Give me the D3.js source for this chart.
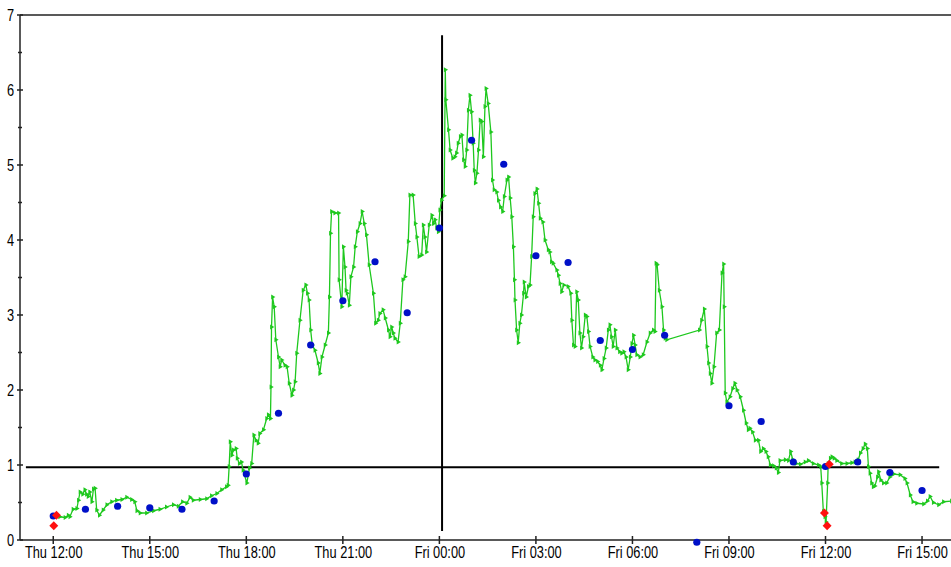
<!DOCTYPE html>
<html><head><meta charset="utf-8">
<script src="https://cdn.jsdelivr.net/npm/d3@7"></script>
<style>
html,body{margin:0;padding:0;background:#fff;}
svg{display:block;}
text{font-family:"Liberation Sans",Arial,sans-serif;font-size:16px;fill:#000;}
</style></head><body>
<svg id="chart" width="951" height="567"></svg>
<script>
// Base time: Thu 12:00; all times below are minutes after it
const baseTime = new Date(2009, 0, 1, 12, 0);
const domainMinutes = [-62, 1674];
const yDomain = [0, 7];
const yTicksMajor = [0,1,2,3,4,5,6,7];
const yTicksMinor = [0.5,1.5,2.5,3.5,4.5,5.5,6.5];

// Green measured trace [minutes, value]
const tracePoints = [
[5,0.32],[12,0.31],[22,0.30],[28,0.33],[31,0.31],[37,0.41],[44,0.42],[47,0.53],[50,0.64],[55,0.61],
[59,0.67],[62,0.61],[65,0.58],[68,0.64],[72,0.51],[75,0.68],[78,0.69],[81,0.40],[86,0.33],[93,0.40],
[100,0.47],[109,0.51],[118,0.53],[128,0.54],[137,0.57],[146,0.54],[152,0.51],[156,0.39],[162,0.36],[174,0.36],
[187,0.39],[199,0.41],[211,0.44],[224,0.47],[233,0.45],[241,0.51],[249,0.49],[255,0.57],[261,0.53],[274,0.54],
[286,0.55],[295,0.59],[305,0.62],[314,0.67],[323,0.71],[326,0.73],[328,0.98],[330,1.31],[333,1.13],[336,1.20],
[341,1.22],[343,1.09],[347,1.02],[351,1.04],[354,0.93],[361,0.76],[366,0.96],[370,1.02],[374,1.40],[378,1.33],
[382,1.29],[385,1.42],[392,1.47],[398,1.62],[401,1.67],[405,1.62],[406,2.04],[407,2.84],[409,3.24],[412,3.11],
[415,2.67],[420,2.44],[423,2.31],[426,2.40],[432,2.33],[436,2.31],[440,2.09],[445,1.93],[448,2.00],[451,2.11],
[454,2.49],[460,2.93],[466,3.33],[471,3.40],[474,3.29],[477,3.20],[480,2.80],[483,2.60],[488,2.53],[494,2.36],
[497,2.22],[501,2.44],[507,2.60],[513,2.76],[515,3.24],[517,4.09],[519,4.38],[525,4.36],[532,4.36],[533,3.47],
[538,3.11],[541,3.91],[544,3.64],[546,3.33],[548,3.29],[552,3.13],[555,3.51],[560,3.64],[563,3.91],[567,4.11],
[572,4.22],[576,4.38],[580,4.22],[584,4.07],[589,3.67],[597,3.29],[601,2.89],[606,2.93],[609,3.02],[615,3.07],
[619,2.96],[625,2.80],[628,2.71],[631,2.84],[634,2.76],[637,2.69],[643,2.64],[647,2.89],[652,3.47],[656,3.51],
[662,3.98],[665,4.60],[671,4.60],[675,4.22],[678,4.04],[682,3.78],[687,3.80],[690,4.20],[693,4.04],[696,3.84],
[701,4.20],[706,4.33],[709,4.22],[712,4.27],[715,4.16],[718,4.11],[721,4.40],[724,4.53],[729,4.59],[731,6.27],
[732,5.87],[737,5.47],[740,5.20],[745,5.09],[749,5.11],[752,5.16],[755,5.29],[759,5.38],[762,5.40],[765,5.07],
[768,4.98],[771,5.20],[774,5.73],[777,5.93],[780,5.71],[783,5.29],[785,4.93],[787,4.76],[790,4.89],[793,5.20],
[796,5.60],[799,5.58],[802,5.11],[805,5.78],[807,6.02],[811,5.82],[816,5.44],[819,4.80],[822,4.67],[827,4.64],
[830,4.53],[834,4.44],[838,4.38],[841,4.58],[846,4.80],[849,4.84],[852,4.56],[855,4.31],[858,3.91],[860,3.47],
[861,3.20],[864,2.80],[867,2.63],[870,2.89],[873,3.00],[877,3.29],[878,3.44],[882,3.24],[886,3.38],[889,3.40],
[892,3.78],[895,4.31],[898,4.62],[902,4.68],[905,4.49],[908,4.29],[913,4.24],[917,4.00],[923,3.87],[926,3.84],
[929,3.71],[932,3.69],[939,3.60],[942,3.53],[945,3.42],[948,3.31],[952,3.40],[960,3.38],[965,3.29],[967,2.93],
[970,2.60],[973,2.58],[976,3.31],[979,3.20],[982,2.76],[985,2.56],[988,2.71],[992,3.00],[995,2.98],[998,2.78],
[1001,2.58],[1006,2.44],[1010,2.40],[1015,2.38],[1020,2.33],[1023,2.27],[1027,2.42],[1031,2.56],[1035,2.80],[1038,2.87],
[1041,2.71],[1044,2.58],[1048,2.80],[1051,2.56],[1056,2.51],[1060,2.49],[1064,2.51],[1068,2.44],[1072,2.27],[1076,2.44],
[1079,2.62],[1082,2.73],[1085,2.60],[1088,2.47],[1094,2.44],[1100,2.47],[1107,2.64],[1113,2.76],[1119,2.80],[1122,2.78],
[1124,3.69],[1126,3.67],[1130,3.33],[1135,3.11],[1138,2.80],[1141,2.69],[1144,2.67],[1205,2.80],[1209,2.93],[1214,3.08],
[1219,2.58],[1222,2.36],[1225,2.22],[1228,2.09],[1232,2.31],[1237,2.76],[1242,2.80],[1247,3.56],[1250,3.68],[1251,3.11],
[1253,1.96],[1256,1.84],[1262,1.91],[1267,2.02],[1271,2.09],[1275,2.00],[1281,1.91],[1287,1.73],[1292,1.56],[1296,1.47],
[1299,1.49],[1304,1.44],[1309,1.33],[1315,1.33],[1319,1.18],[1324,1.22],[1329,1.18],[1333,1.11],[1337,1.00],[1343,0.99],
[1348,0.96],[1352,0.90],[1355,1.06],[1365,1.07],[1371,1.06],[1375,1.18],[1379,1.07],[1385,1.02],[1393,1.01],[1402,1.04],
[1408,1.06],[1417,1.02],[1427,1.00],[1431,0.98],[1433,0.76],[1436,0.38],[1439,0.31],[1441,0.24],[1444,0.76],[1445,1.02],
[1449,1.09],[1452,1.11],[1456,1.09],[1461,1.06],[1470,1.02],[1480,1.02],[1489,1.03],[1495,1.04],[1501,1.07],[1505,1.16],
[1510,1.22],[1514,1.28],[1518,1.22],[1520,0.98],[1523,0.89],[1526,0.76],[1529,0.71],[1532,0.72],[1537,0.84],[1539,0.91],
[1543,0.80],[1548,0.76],[1554,0.76],[1560,0.84],[1567,0.88],[1579,0.87],[1588,0.82],[1592,0.76],[1598,0.60],[1603,0.51],
[1610,0.49],[1623,0.48],[1630,0.52],[1635,0.58],[1641,0.50],[1651,0.47],[1660,0.51],[1675,0.52],[1690,0.53]
];

// Hourly blue points, Thu 12:00 .. Fri 15:00
const hourlyValues = [0.32,0.41,0.45,0.43,0.41,0.52,0.88,1.69,2.60,3.19,3.71,3.03,4.16,5.33,5.01,3.79,3.70,2.66,2.54,2.73,-0.03,1.79,1.58,1.04,0.98,1.04,0.90,0.66];

// Red diamond points [minutes, value]
const flagPoints = [[1,0.19],[6,0.33],[1438,0.36],[1443,0.19],[1447,1.01]];

// Reference lines
const hLineValue = 0.97, hLineRange = [-51, 1652];
const vLineMinute = 725, vLineRange = [0.12, 6.73];

const toDate = m => new Date(baseTime.getTime() + m*60000);

const svg = d3.select("#chart");
const L = 20, R = 951, T = 15, B = 540;
const x = d3.scaleTime().domain(domainMinutes.map(toDate)).range([L, R]);
const y = d3.scaleLinear().domain(yDomain).range([B, T]);

svg.append("defs").append("clipPath").attr("id","clip")
  .append("rect").attr("x",L).attr("y",T-10).attr("width",R-L).attr("height",B-T+20);

const axisColor = "#222";
const narrow = sel => sel.each(function(){
  const w = this.getComputedTextLength();
  d3.select(this).attr("textLength", w*0.8).attr("lengthAdjust","spacingAndGlyphs");
});

// frame top
svg.append("line").attr("x1",L).attr("x2",R).attr("y1",T).attr("y2",T).attr("stroke",axisColor).attr("stroke-width",1.5);

// y axis
const yAxis = d3.axisLeft(y).tickValues(yTicksMajor).tickSize(0).tickPadding(6).tickFormat(d3.format("d"));
const gy = svg.append("g").attr("transform",`translate(${L},0)`).call(yAxis);
gy.select(".domain").remove();
gy.selectAll("text").attr("fill","#000").style("font-size","16px").call(narrow);
svg.append("g").selectAll("line").data(yTicksMajor.concat(yTicksMinor)).join("line")
  .attr("x1", d => yTicksMinor.includes(d) ? L-2 : L-3)
  .attr("x2", d => yTicksMinor.includes(d) ? L+2 : L+3)
  .attr("y1", d => y(d)).attr("y2", d => y(d)).attr("stroke",axisColor).attr("stroke-width",1.5);
svg.append("line").attr("x1",L).attr("x2",L).attr("y1",T).attr("y2",B).attr("stroke",axisColor).attr("stroke-width",1.5);

// x axis
const xTicks = d3.range(0, 28, 3).map(h => toDate(h*60));
const xAxis = d3.axisBottom(x).tickValues(xTicks).tickSize(0).tickPadding(7).tickFormat(d3.timeFormat("%a %H:%M"));
const gx = svg.append("g").attr("transform",`translate(0,${B})`).call(xAxis);
gx.select(".domain").remove();
gx.selectAll("text").attr("fill","#000").style("font-size","16px").call(narrow);
svg.append("g").selectAll("line").data(xTicks).join("line")
  .attr("x1", d => x(d)).attr("x2", d => x(d)).attr("y1",B-4).attr("y2",B+4)
  .attr("stroke",axisColor).attr("stroke-width",1.5);
svg.append("line").attr("x1",L).attr("x2",R).attr("y1",B).attr("y2",B).attr("stroke",axisColor).attr("stroke-width",1.5);

const plot = svg.append("g").attr("clip-path","url(#clip)");

// reference lines
plot.append("line").attr("x1",x(toDate(hLineRange[0]))).attr("x2",x(toDate(hLineRange[1])))
  .attr("y1",y(hLineValue)).attr("y2",y(hLineValue)).attr("stroke","#000").attr("stroke-width",2);
plot.append("line").attr("x1",x(toDate(vLineMinute))).attr("x2",x(toDate(vLineMinute)))
  .attr("y1",y(vLineRange[0])).attr("y2",y(vLineRange[1])).attr("stroke","#000").attr("stroke-width",2);

// green trace
const green = "#1ec81e";
const line = d3.line().x(d => x(toDate(d[0]))).y(d => y(d[1]));
plot.append("path").datum(tracePoints).attr("d",line).attr("fill","none").attr("stroke",green).attr("stroke-width",1.3);
const tri = d3.symbol().type(d3.symbolTriangle).size(10)();
plot.append("g").selectAll("path").data(tracePoints).join("path")
  .attr("d",tri).attr("fill",green)
  .attr("transform", d => `translate(${x(toDate(d[0]))},${y(d[1])}) rotate(90)`);

// blue hourly dots
plot.append("g").selectAll("circle").data(hourlyValues).join("circle")
  .attr("cx",(d,i) => x(toDate(i*60))).attr("cy", d => y(d)).attr("r",3.6).attr("fill","#0010c8");

// red diamonds (rotated squares)
const dia = d3.symbol().type(d3.symbolSquare).size(40)();
plot.append("g").selectAll("path").data(flagPoints).join("path")
  .attr("d",dia).attr("fill","#ff1010")
  .attr("transform", d => `translate(${x(toDate(d[0]))},${y(d[1])}) rotate(45)`);
</script>
</body></html>
